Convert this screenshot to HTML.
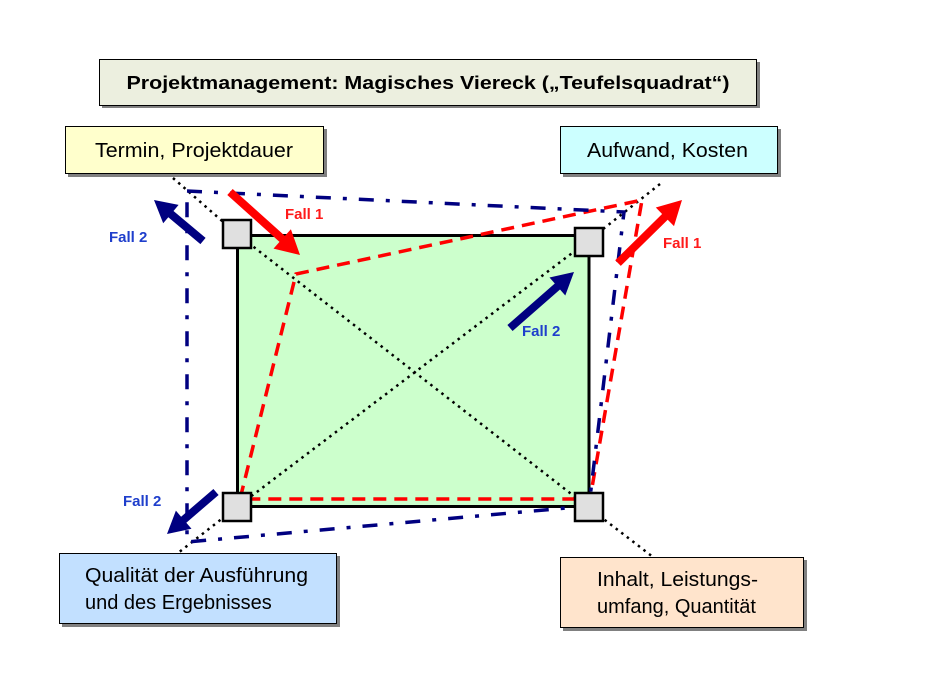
<!DOCTYPE html>
<html><head><meta charset="utf-8"><style>
html,body{margin:0;padding:0;background:#fff;}
svg{display:block;}
text{font-family:"Liberation Sans",Arial,sans-serif;}
</style></head><body>
<svg width="928" height="688" viewBox="0 0 928 688" xmlns="http://www.w3.org/2000/svg">
<rect width="928" height="688" fill="#fff"/>
<!-- Title -->
<rect x="102" y="62" width="658" height="46" fill="#808080"/>
<rect x="99.5" y="59.5" width="657" height="46" fill="#ecefdf" stroke="#000" stroke-width="1"/>
<text x="428" y="89" text-anchor="middle" font-size="18" font-weight="bold" textLength="603" lengthAdjust="spacingAndGlyphs">Projektmanagement: Magisches Viereck („Teufelsquadrat“)</text>

<!-- Boxes -->
<rect x="68" y="129" width="259" height="48" fill="#808080"/>
<rect x="65.5" y="126.5" width="258" height="47" fill="#ffffcc" stroke="#000" stroke-width="1"/>
<text x="95" y="157" font-size="20" textLength="198" lengthAdjust="spacingAndGlyphs">Termin, Projektdauer</text>

<rect x="563" y="129" width="218" height="48" fill="#808080"/>
<rect x="560.5" y="126.5" width="217" height="47" fill="#ccffff" stroke="#000" stroke-width="1"/>
<text x="587" y="157" font-size="20" textLength="161" lengthAdjust="spacingAndGlyphs">Aufwand, Kosten</text>

<rect x="62" y="556" width="278" height="71" fill="#808080"/>
<rect x="59.5" y="553.5" width="277" height="70" fill="#c2e0ff" stroke="#000" stroke-width="1"/>
<text x="85" y="582" font-size="20" textLength="223" lengthAdjust="spacingAndGlyphs">Qualität der Ausführung</text>
<text x="85" y="609" font-size="20">und des Ergebnisses</text>

<rect x="563" y="560" width="244" height="71" fill="#808080"/>
<rect x="560.5" y="557.5" width="243" height="70" fill="#ffe4cc" stroke="#000" stroke-width="1"/>
<text x="597" y="586" font-size="20" textLength="161" lengthAdjust="spacingAndGlyphs">Inhalt, Leistungs-</text>
<text x="597" y="613" font-size="20">umfang, Quantität</text>

<!-- Green rectangle -->
<rect x="237.5" y="235.5" width="351.5" height="271" fill="#ccffcc" stroke="#000" stroke-width="3"/>

<!-- dotted diagonals -->
<g stroke="#000" stroke-width="2.5" stroke-dasharray="2.5 4.5" fill="none">
<line x1="173" y1="178" x2="237" y2="234"/>
<line x1="237" y1="234" x2="588" y2="507"/>
<line x1="588" y1="507" x2="653" y2="557"/>
<line x1="660" y1="184" x2="588" y2="241"/>
<line x1="588" y1="241" x2="237" y2="507"/>
<line x1="237" y1="507" x2="178" y2="553"/>
</g>

<!-- Red dashed polygon -->
<polygon points="296,274 642,200 590,499 240,499" fill="none" stroke="#ff0000" stroke-width="3.5" stroke-dasharray="13 8"/>

<!-- Blue dash-dot polygon -->
<polygon points="187,191 624,212 589,506 187,542" fill="none" stroke="#000080" stroke-width="3.5" stroke-dasharray="15 12 4 12"/>

<!-- Corner squares -->
<g fill="#e0e0e0" stroke="#000" stroke-width="2.5">
<rect x="223" y="220" width="28" height="28"/>
<rect x="575" y="228" width="28" height="28"/>
<rect x="223" y="493" width="28" height="28"/>
<rect x="575" y="493" width="28" height="28"/>
</g>

<!-- Arrows -->
<polygon fill="#ff0000" points="227.3,195.0 279.5,241.9 273.5,248.6 300,255 290.9,229.2 284.9,235.9 232.7,189.0"/>
<polygon fill="#000080" points="205.6,237.9 173.5,211.0 178.6,204.9 154,200 163.2,223.3 168.3,217.2 200.4,244.1"/>
<polygon fill="#ff0000" points="620.8,265.9 667.7,219.7 674.0,226.1 682,200 655.8,207.5 662.1,214.0 615.2,260.2"/>
<polygon fill="#000080" points="512.6,331.0 560.0,289.5 565.3,295.5 574,272 549.5,277.5 554.8,283.5 507.4,325.0"/>
<polygon fill="#000080" points="213.4,489.0 181.1,516.7 175.9,510.6 167,534 191.5,528.8 186.3,522.7 218.6,495.0"/>

<!-- Fall labels -->
<g font-size="15" font-weight="bold">
<text x="285" y="219" fill="#ff1a1a">Fall 1</text>
<text x="663" y="248" fill="#ff1a1a">Fall 1</text>
<text x="109" y="242" fill="#1f3fcc">Fall 2</text>
<text x="522" y="336" fill="#1f3fcc">Fall 2</text>
<text x="123" y="506" fill="#1f3fcc">Fall 2</text>
</g>
</svg>
</body></html>
